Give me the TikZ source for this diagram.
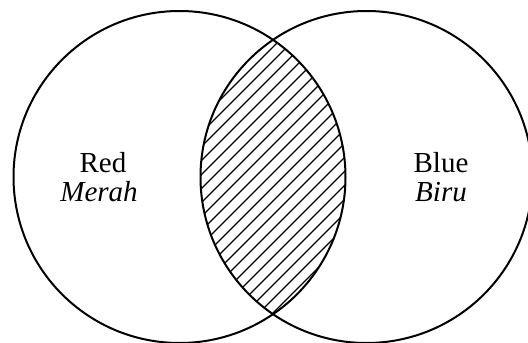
\documentclass[tikz,border=0pt]{standalone}
\usepackage{fontspec}
\setmainfont{Liberation Serif}
\begin{document}
\begin{tikzpicture}[x=1pt,y=-1pt,
  setcircle/.style={line width=2pt,draw=black},
  hatchline/.style={line width=1.3pt},
  lbl/.style={anchor=base,font=\fontsize{29}{31}\selectfont,inner sep=0pt}]
\useasboundingbox (0,0) rectangle (528,343);
\coordinate (cL) at (179.5,177);
\coordinate (cR) at (366.5,177);
\begin{scope}
  \clip (cL) circle[radius=166];
  \clip (cR) circle[radius=166];
  \foreach \k in {-30,...,30} {
    \draw[hatchline] (200+\k*14,330) -- (200+\k*14+300,30);
  }
\end{scope}
\draw[setcircle] (cL) circle[radius=166];
\draw[setcircle] (cR) circle[radius=166];
\node[lbl] (red) at (103,172) {Red};
\node[lbl] (merah) at (99,201) {\itshape Merah};
\node[lbl] (blue) at (441,172) {Blue};
\node[lbl] (biru) at (441,201) {\itshape Biru};
\end{tikzpicture}
\end{document}
